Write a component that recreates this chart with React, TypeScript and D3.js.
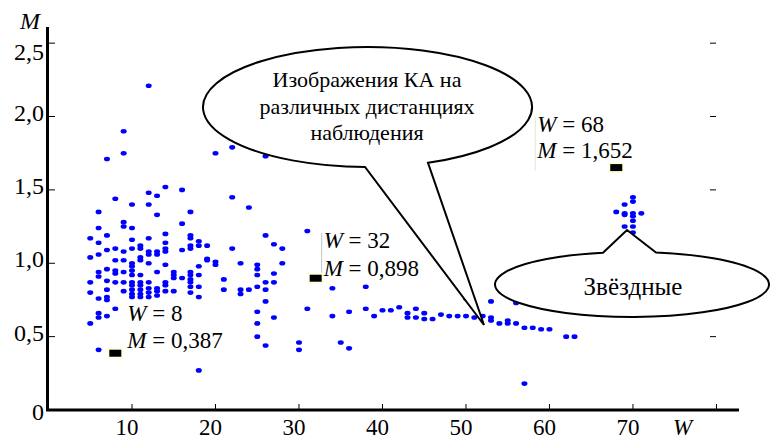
import * as d3 from "d3";

// observed (W, M) values, grouped by W column
const nearColumns: [number, number[]][] = [
  [5, [1.17, 1.04, 0.87, 0.8, 0.59]],
  [6, [1.35, 1.24, 1.14, 1.06, 0.94, 0.91, 0.76, 0.66, 0.63, 0.41]],
  [7, [1.71, 1.19, 1.09, 0.96, 0.88, 0.82, 0.77, 0.75, 0.64]],
  [8, [1.44, 1.1, 1.02, 0.95, 0.93, 0.87, 0.69]],
  [9, [1.9, 1.75, 1.28, 1.25, 1.08, 1.02, 0.94, 0.87, 0.81]],
  [10, [1.4, 1.24, 1.16, 1.1, 1.0, 0.98, 0.95, 0.92, 0.87, 0.85, 0.82, 0.79, 0.77]],
  [11, [1.12, 1.1, 1.04, 1.02, 0.92, 0.87, 0.85, 0.82, 0.79, 0.77]],
  [12, [2.21, 1.48, 1.4, 1.17, 1.08, 1.06, 1.0, 0.87, 0.83, 0.8, 0.77]],
  [13, [1.46, 1.33, 1.08, 1.06, 0.94, 0.83, 0.81, 0.78]],
  [14, [1.52, 1.2, 1.14, 1.1, 1.08, 0.99, 0.87, 0.85, 0.81]],
  [15, [0.94, 0.92, 0.9, 0.81]],
  [16, [1.5, 1.27, 1.09, 0.9]],
  [17, [1.35, 1.19, 1.17, 1.12, 1.1, 0.94, 0.92, 0.89, 0.87, 0.84, 0.8]],
  [18, [1.15, 1.12, 0.98, 0.92, 0.84, 0.77, 0.27]],
  [19, [1.12, 1.03, 1.02]],
  [20, [1.75, 1.01, 0.99]],
  [21, [0.89, 0.82]],
  [22, [1.79, 1.45, 1.1]],
  [23, [1.0, 0.82, 0.79]],
  [24, [1.38, 0.82]],
  [25, [0.99, 0.96, 0.92, 0.84, 0.67, 0.59, 0.5]],
  [26, [1.73, 1.19, 0.87, 0.82, 0.74, 0.44]],
  [27, [1.13, 0.93, 0.87, 0.63]],
  [28, [1.1, 1.0]],
]

const midColumns: [number, number[]][] = [
  [30, [0.46, 0.41]],
  [31, [1.22, 0.69]],
  [34, [0.83, 0.64]],
  [35, [0.46]],
  [36, [0.67, 0.42]],
  [38, [0.84, 0.69]],
  [39, [0.64]],
  [40, [0.68]],
  [41, [0.68]],
  [42, [0.7]],
  [43, [0.66, 0.63]],
  [44, [0.69, 0.63]],
  [45, [0.66, 0.62]],
  [46, [0.62]],
  [47, [0.65]],
  [48, [0.64]],
  [49, [0.64]],
  [50, [0.76, 0.64]],
  [51, [0.63]],
  [52, [0.64]],
  [53, [0.74, 0.63, 0.61]],
  [54, [0.59]],
  [55, [0.61, 0.59]],
  [56, [0.73, 0.59]],
  [57, [0.56, 0.18]],
  [58, [0.56]],
  [59, [0.55]],
  [60, [0.55]],
  [62, [0.5]],
  [63, [0.5]],
]

const starColumns: [number, number[]][] = [
  [68, [1.35]],
  [69, [1.4, 1.34, 1.33, 1.25]],
  [70, [1.45, 1.42, 1.34, 1.32, 1.29, 1.25, 1.21]],
  [71, [1.34]],
]

const xTicks = [0, 10, 20, 30, 40, 50, 60, 70, 80]
const xTickLabels = ["", "10", "20", "30", "40", "50", "60", "70", ""]
const yTicks = [0, 0.5, 1, 1.5, 2, 2.5]

const datatips = [
  { w: 8, m: 0.387 },
  { w: 32, m: 0.898 },
  { w: 68, m: 1.652 },
]

const calloutTop = ["Изображения КА на", "различных дистанциях", "наблюдения"]
const calloutStars = "Звёздные"

const FONT = '"Liberation Serif", "Times New Roman", Times, "DejaVu Serif", serif'

export default function App() {
  const width = 771
  const height = 441

  const x = d3.scaleLinear().domain([0, 82.7]).range([48.5, 739])
  const y = d3.scaleLinear().domain([0, 2.61]).range([410, 27])

  const comma = (v: number) => (v === 0 ? "0" : d3.format(".1f")(v).replace(".", ","))
  const comma3 = (v: number) => d3.format(".3f")(v).replace(".", ",")

  const points = [...nearColumns, ...midColumns, ...starColumns].flatMap(([w, ms]) =>
    ms.map((m) => ({ w, m })),
  )

  // datatip label layout (offsets from marker)
  const tipLayout = [
    { dx: 12, dy1: -32, dy2: -5, line: null as null | string },
    { dx: 8, dy1: -30, dy2: -2, line: "#c4c4c4" },
    { dx: -79, dy1: -36, dy2: -10, line: "#e6e6cc" },
  ]

  const txt = { fontFamily: FONT }

  // y tick label baseline: top label pushed down, zero label sits on the axis
  const yLabelPos = (t: number) => (t === 2.5 ? 60 : t === 0 ? 420 : y(t) + 4)

  // callout geometry
  const c1 = { cx: 367.5, cy: 107, rx: 164.5, ry: 60 }
  const onBottom = (c: typeof c1, px: number) => [
    px,
    c.cy + c.ry * Math.sqrt(1 - ((px - c.cx) / c.rx) ** 2),
  ]
  const onTop = (c: typeof c1, px: number) => [
    px,
    c.cy - c.ry * Math.sqrt(1 - ((px - c.cx) / c.rx) ** 2),
  ]
  const a1 = onBottom(c1, 365)
  const b1 = onBottom(c1, 428)
  const tip1 = [484, 325]
  const path1 = `M${a1[0]},${a1[1]} A${c1.rx},${c1.ry} 0 1 1 ${b1[0]},${b1[1]} L${tip1[0]},${tip1[1]} Z`

  const c2 = { cx: 632, cy: 284.5, rx: 137, ry: 32.5 }
  const a2 = onTop(c2, 656)
  const b2 = onTop(c2, 603)
  const tip2 = [627, 230]
  const path2 = `M${a2[0]},${a2[1]} A${c2.rx},${c2.ry} 0 1 1 ${b2[0]},${b2[1]} L${tip2[0]},${tip2[1]} Z`

  return (
    <svg
      width={width}
      height={height}
      style={{ position: "absolute", left: 0, top: 0, background: "#fff", fontFamily: FONT }}
    >
      {/* data points */}
      <g fill="#0000ff">
        {points.map((p, i) => (
          <ellipse key={i} cx={x(p.w)} cy={y(p.m)} rx={3} ry={2.3} />
        ))}
      </g>

      {/* axes */}
      <line x1={47.5} x2={47.5} y1={27} y2={411} stroke="#000" strokeWidth={3} />
      <line x1={46} x2={739} y1={410} y2={410} stroke="#000" strokeWidth={3} />

      {xTicks.map((t, i) => (
        <g key={"xt" + t}>
          <line x1={x(t)} x2={x(t)} y1={410} y2={404} stroke="#000" strokeWidth={1} />
          <text x={x(t) - 5} y={435} fontSize={23} textAnchor="middle" style={txt}>
            {xTickLabels[i]}
          </text>
        </g>
      ))}
      {yTicks.map((t) => (
        <g key={"yt" + t}>
          <line x1={47.5} x2={55} y1={y(t)} y2={y(t)} stroke="#000" strokeWidth={1} />
          <line x1={710} x2={716} y1={y(t)} y2={y(t)} stroke="#000" strokeWidth={1} />
          <text x={44} y={yLabelPos(t)} fontSize={24} textAnchor="end" style={txt}>
            {comma(t)}
          </text>
        </g>
      ))}
      <text x={20} y={29} fontSize={24} fontStyle="italic" style={txt}>
        M
      </text>
      <text x={673} y={435} fontSize={23} fontStyle="italic" style={txt}>
        W
      </text>

      {/* datatips */}
      {datatips.map((d, i) => {
        const mx = x(d.w)
        const my = y(d.m)
        const L = tipLayout[i]
        return (
          <g key={"tip" + i}>
            {L.line && (
              <line
                x1={mx + L.dx - 2}
                x2={mx + L.dx - 2}
                y1={my + L.dy1 - 15}
                y2={my + 3}
                stroke={L.line}
                strokeWidth={1}
              />
            )}
            <rect x={mx - 8} y={my - 5.5} width={16} height={11} fill="#ffffe0" />
            <rect x={mx - 6} y={my - 3.5} width={12} height={7} fill="#000" />
            <text x={mx + L.dx} y={my + L.dy1} fontSize={23} style={txt}>
              <tspan fontStyle="italic">W</tspan>
              {" = " + d.w}
            </text>
            <text x={mx + L.dx} y={my + L.dy2} fontSize={23} style={txt}>
              <tspan fontStyle="italic">M</tspan>
              {" = " + comma3(d.m)}
            </text>
          </g>
        )
      })}

      {/* callouts */}
      <path d={path1} fill="#fff" stroke="#000" strokeWidth={2} strokeLinejoin="miter" />
      {calloutTop.map((s, i) => (
        <text key={s} x={367} y={87 + i * 26.5} fontSize={22} textAnchor="middle" style={txt}>
          {s}
        </text>
      ))}
      <path d={path2} fill="#fff" stroke="#000" strokeWidth={2} />
      <text x={633} y={295} fontSize={25} textAnchor="middle" style={txt}>
        {calloutStars}
      </text>
    </svg>
  )
}
